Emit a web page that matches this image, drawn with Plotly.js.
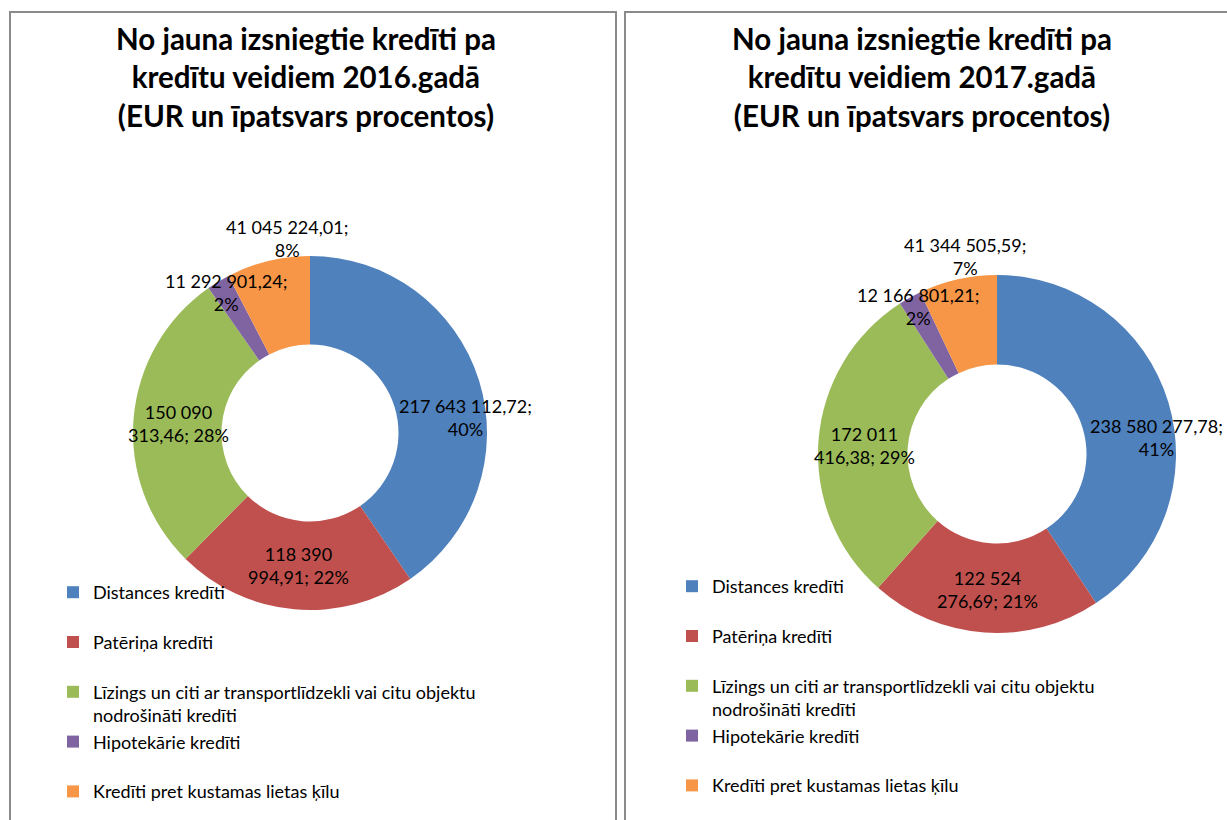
<!DOCTYPE html>
<html>
<head>
<meta charset="utf-8">
<script src="https://cdn.plot.ly/plotly-3.0.1.min.js"></script>
<style>
  html, body { margin: 0; padding: 0; background: #fff; overflow: hidden; }
  #chart { width: 1227px; height: 820px; }
</style>
</head>
<body>
<div id="chart"></div>
<script>
// ---- data ----
const categories = [
  "Distances kredīti",
  "Patēriņa kredīti",
  "Līzings un citi ar transportlīdzekli vai citu objektu<br>nodrošināti kredīti",
  "Hipotekārie kredīti",
  "Kredīti pret kustamas lietas ķīlu"
];
const values2016 = [217643112.72, 118390994.91, 150090313.46, 11292901.24, 41045224.01];
const values2017 = [238580277.78, 122524276.69, 172011416.38, 12166801.21, 41344505.59];
const title2016 = "No jauna izsniegtie kredīti pa<br>kredītu veidiem 2016.gadā<br>(EUR un īpatsvars procentos)";
const title2017 = "No jauna izsniegtie kredīti pa<br>kredītu veidiem 2017.gadā<br>(EUR un īpatsvars procentos)";

// ---- styling / layout helpers ----
const W = 1227, H = 820;
const colors = ["#4F81BD", "#C0504D", "#9BBB59", "#8064A2", "#F79646"];
const FONT = "Lato, 'Open Sans', sans-serif";
const wrapWords = [3, 2, 2, 3, 3];
const labelPos2016 = [[466, 417], [298, 565], [178, 423], [226, 292], [287, 238]];
const labelPos2017 = [[1156, 437], [987, 589], [864, 445], [918, 306], [965, 256]];
const px = x => x / W;
const py = y => 1 - y / H;

function fmtNum(v) {
  const parts = v.toFixed(2).split(".");
  const intPart = parts[0].replace(/\B(?=(\d{3})+(?!\d))/g, " ");
  return intPart + "," + parts[1];
}
function labelText(values, i) {
  const total = values.reduce((a, b) => a + b, 0);
  const pct = Math.round(values[i] / total * 100) + "%";
  const words = (fmtNum(values[i]) + "; " + pct).split(" ");
  const n = wrapWords[i];
  return words.slice(0, n).join(" ") + "<br>" + words.slice(n).join(" ");
}
function legendLabels() {
  // every legend entry occupies two text lines (as in the original layout)
  return categories.map(c => c.indexOf("<br>") >= 0 ? c : c + "<br> ");
}

function pieTrace(values, domainPx, legendId, group) {
  return {
    type: "pie",
    labels: legendLabels(),
    values: values,
    hole: 0.5,
    sort: false,
    direction: "clockwise",
    rotation: 0,
    marker: { colors: colors, line: { color: "#ffffff", width: 0 } },
    textinfo: "none",
    textposition: "none",
    hoverinfo: "label+value+percent",
    domain: {
      x: [px(domainPx[0]), px(domainPx[1])],
      y: [py(domainPx[3]), py(domainPx[2])]
    },
    legend: legendId,
    legendgroup: group,
    showlegend: true
  };
}

const traces = [
  pieTrace(values2016, [133, 487, 256, 610], "legend", "y2016"),
  pieTrace(values2017, [818, 1176, 275, 633], "legend2", "y2017")
];

const annotations = [];
function addLabels(values, pos) {
  values.forEach((v, i) => {
    annotations.push({
      xref: "paper", yref: "paper",
      x: px(pos[i][0]), y: py(pos[i][1]),
      xanchor: "center", yanchor: "middle",
      text: labelText(values, i),
      showarrow: false,
      align: "center",
      font: { family: FONT, size: 18, color: "#000" }
    });
  });
}
addLabels(values2016, labelPos2016);
addLabels(values2017, labelPos2017);

annotations.push({
  xref: "paper", yref: "paper", x: px(306), y: py(77),
  xanchor: "center", yanchor: "middle", showarrow: false,
  text: "<b>" + title2016 + "</b>", align: "center",
  font: { family: FONT, size: 29.5, color: "#000" }
});
annotations.push({
  xref: "paper", yref: "paper", x: px(922), y: py(77),
  xanchor: "center", yanchor: "middle", showarrow: false,
  text: "<b>" + title2017 + "</b>", align: "center",
  font: { family: FONT, size: 29.5, color: "#000" }
});

const legendCommon = {
  xanchor: "left", yanchor: "top",
  bgcolor: "rgba(0,0,0,0)",
  borderwidth: 0,
  valign: "top",
  orientation: "v",
  traceorder: "normal",
  font: { family: FONT, size: 18, color: "#000" }
};

const layout = {
  width: W, height: H,
  margin: { l: 0, r: 0, t: 0, b: 0, autoexpand: false },
  paper_bgcolor: "#ffffff",
  plot_bgcolor: "#ffffff",
  font: { family: FONT },
  annotations: annotations,
  legend: Object.assign({}, legendCommon, { x: px(53), y: py(574) }),
  legend2: Object.assign({}, legendCommon, { x: px(672), y: py(568) }),
  shapes: [
    { type: "rect", xref: "paper", yref: "paper",
      x0: px(10), x1: px(616), y0: py(830), y1: py(12),
      line: { color: "#8a8a8a", width: 2 }, fillcolor: "rgba(0,0,0,0)" },
    { type: "rect", xref: "paper", yref: "paper",
      x0: px(625), x1: px(1240), y0: py(830), y1: py(12),
      line: { color: "#8a8a8a", width: 2 }, fillcolor: "rgba(0,0,0,0)" }
  ]
};

Plotly.newPlot("chart", traces, layout, { displayModeBar: false });
</script>
</body>
</html>
